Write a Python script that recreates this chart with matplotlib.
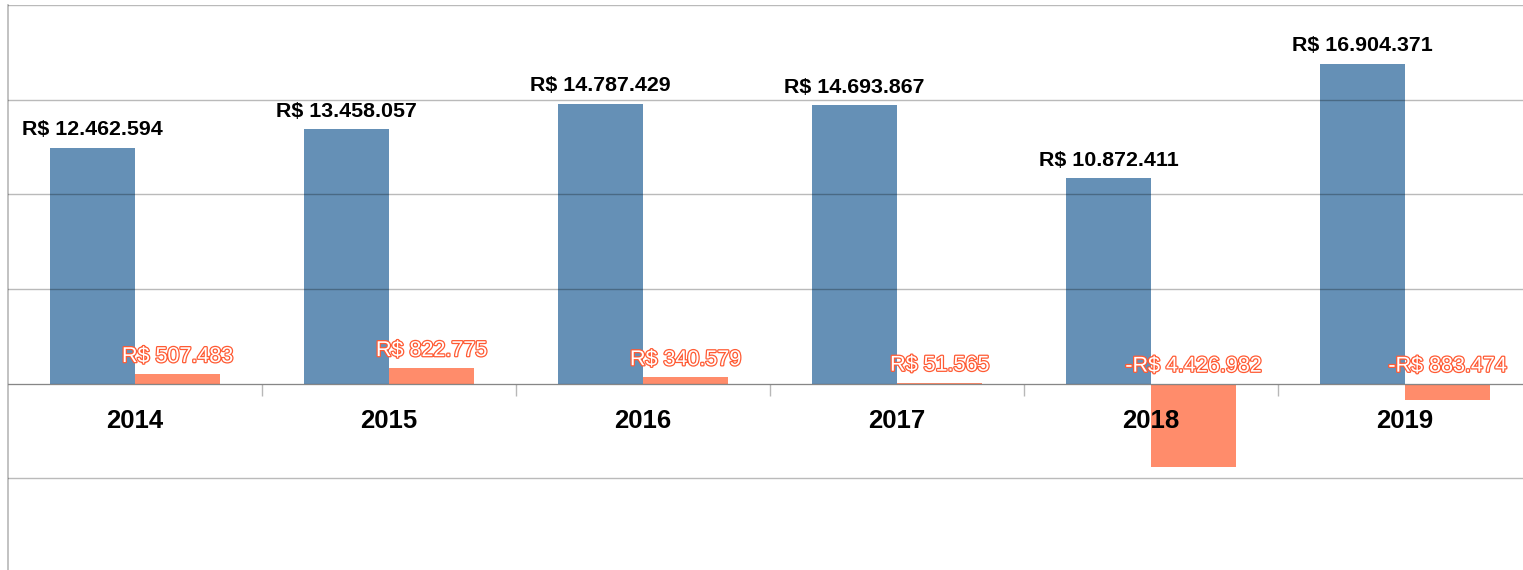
import matplotlib
matplotlib.use('Agg')
import matplotlib.pyplot as plt
import matplotlib.patheffects as pe
import numpy as np

plt.rcParams.update({
    'font.family': ['Liberation Sans', 'DejaVu Sans'],
})

# data
years = ['2014', '2015', '2016', '2017', '2018', '2019']
receita = [12462594, 13458057, 14787429, 14693867, 10872411, 16904371]
lucro = [507483, 822775, 340579, 51565, -4426982, -883474]

BLUE = '#6590b6'
SALMON = '#ff8c6b'
SALMON_TXT = '#ff5a33'
GRID = '#b8b8b8'


def brl(v):
    s = f'{abs(v):,}'.replace(',', '.')
    return ('-R$ ' if v < 0 else 'R$ ') + s


W, H = 1523, 570
fig = plt.figure(figsize=(W / 100, H / 100), dpi=100)
fig.patch.set_facecolor('white')

# axes extends a little beyond the canvas like the original
ax = fig.add_axes([8 / W, (H - 573) / H, 1524 / W, 568 / H])
ax.set_facecolor('white')

x = np.arange(len(years))
bw = 85 / 254
b1 = ax.bar(x - bw / 2, receita, bw, color=BLUE, zorder=1)
b2 = ax.bar(x + bw / 2, lucro, bw, color=SALMON, zorder=1)

ax.set_xlim(-0.5, len(years) - 0.5)
ax.set_ylim(-10_000_000, 20_000_000)
ax.set_yticks(np.arange(-10_000_000, 20_000_001, 5_000_000))
ax.yaxis.grid(True, color='black', alpha=0.27, lw=1, zorder=3)
ax.set_axisbelow(False)
ax.tick_params(axis='y', left=False, labelleft=False)

# category axis sitting on zero
for s in ['top', 'right']:
    ax.spines[s].set_visible(False)
ax.spines['bottom'].set_position(('data', 0))
ax.spines['bottom'].set_color(GRID)
ax.spines['left'].set_color(GRID)
ax.spines['left'].set_linewidth(1.2)

ax.set_xticks(x, years)
ax.set_xticks(x[:-1] + 0.5, minor=True)
ax.tick_params(axis='x', which='major', length=0, pad=18,
               labelsize=18.5)
ax.tick_params(axis='x', which='minor', length=8.5, color=GRID, width=1)
for lbl in ax.get_xticklabels():
    lbl.set_fontweight('bold')
    lbl.set_zorder(5)

# value labels
for rect, v in zip(b1, receita):
    ax.annotate(brl(v), (rect.get_x() + rect.get_width() / 2, v),
                xytext=(0, 12.8), textcoords='offset points',
                ha='center', va='center', fontsize=15.4,
                fontweight='bold', color='black')

for rect, v in zip(b2, lucro):
    ax.annotate(brl(v), (rect.get_x() + rect.get_width() / 2, max(v, 0)),
                xytext=(0, 12.6), textcoords='offset points',
                ha='center', va='center', fontsize=15.5, color='white',
                path_effects=[pe.withStroke(linewidth=1.8, foreground=SALMON_TXT)])

fig.savefig('out.png', dpi=100, facecolor='white')
